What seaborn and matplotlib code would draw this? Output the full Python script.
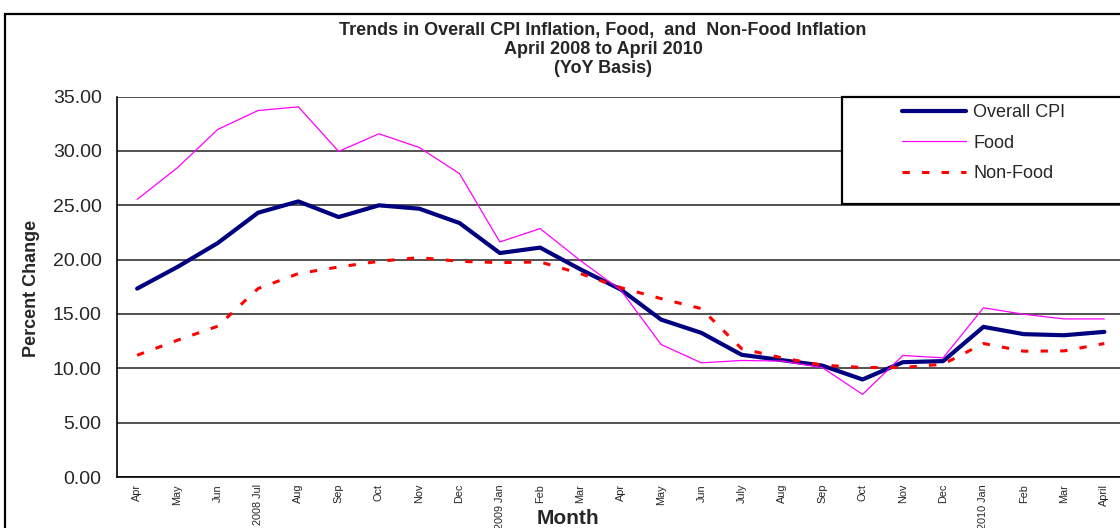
import matplotlib
matplotlib.use("Agg")
import matplotlib.pyplot as plt
import matplotlib.patches as mpatches
from matplotlib import font_manager
import seaborn as sns
import pandas as pd
import numpy as np

months = ["Apr", "May", "Jun", "2008 Jul", "Aug", "Sep", "Oct", "Nov", "Dec",
          "2009 Jan", "Feb", "Mar", "Apr", "May", "Jun", "July", "Aug", "Sep",
          "Oct", "Nov", "Dec", "2010 Jan", "Feb", "Mar", "April"]
overall_cpi = [17.33, 19.32, 21.52, 24.31, 25.35, 23.91, 24.99, 24.68, 23.36,
               20.60, 21.10, 19.10, 17.25, 14.48, 13.26, 11.24, 10.75, 10.25,
               8.97, 10.56, 10.66, 13.81, 13.14, 13.04, 13.35]
food = [25.54, 28.45, 31.97, 33.71, 34.05, 29.95, 31.57, 30.31, 27.90,
        21.62, 22.85, 19.90, 17.20, 12.19, 10.50, 10.72, 10.66, 10.07,
        7.60, 11.18, 10.96, 15.56, 14.97, 14.54, 14.54]
non_food = [11.20, 12.58, 13.87, 17.33, 18.71, 19.32, 19.84, 20.18, 19.84,
            19.72, 19.78, 18.71, 17.42, 16.41, 15.49, 11.80, 10.96, 10.29,
            10.07, 10.07, 10.38, 12.28, 11.57, 11.60, 12.28]
series_names = ["Overall CPI", "Food", "Non-Food"]
title_lines = ["Trends in Overall CPI Inflation, Food,  and  Non-Food Inflation",
               "April 2008 to April 2010", "(YoY Basis)"]


def has_font(name):
    try:
        font_manager.findfont(name, fallback_to_default=False)
        return True
    except Exception:
        return False

narrow = "Liberation Sans Narrow" if has_font("Liberation Sans Narrow") else "Liberation Sans"

sns.set_style("white")
plt.rcParams["font.family"] = ["Liberation Sans", "DejaVu Sans"]

W, H = 1120, 528
fig = plt.figure(figsize=(W / 100, H / 100), dpi=100)
fx = lambda px: px / W
fy = lambda py: 1 - py / H

x_left, x_right = 117, 117 + 25 * 40.3
y_top, y_bot = 96.5, 477
ax = fig.add_axes([fx(x_left), fy(y_bot), fx(x_right) - fx(x_left), (y_bot - y_top) / H])

n = len(months)
df = pd.DataFrame({
    "idx": np.tile(np.arange(n), 3),
    "value": overall_cpi + food + non_food,
    "series": np.repeat(series_names, n),
})

palette = {"Overall CPI": "#000080", "Food": "#FF00FF", "Non-Food": "#FF0000"}
sizes = {"Overall CPI": 3.0, "Food": 0.9, "Non-Food": 2.2}
dashes = {"Overall CPI": "", "Food": "", "Non-Food": (2.4, 4.0)}

sns.lineplot(data=df, x="idx", y="value", hue="series", style="series", size="series",
             palette=palette, sizes=sizes, dashes=dashes, hue_order=series_names,
             style_order=series_names, size_order=series_names, ax=ax, zorder=3)

handles, labels = ax.get_legend_handles_labels()
ax.get_legend().remove()

ax.set_xlim(-0.5, n - 0.5)
ax.set_ylim(0, 35)
ax.set_yticks(np.arange(0, 35.01, 5))
ax.set_yticklabels([f"{v:.2f}" for v in np.arange(0, 35.01, 5)], fontsize=14)
ax.yaxis.grid(True, color="#222222", linewidth=1.1)
ax.set_axisbelow(True)

ax.set_xticks(np.arange(n))
ax.set_xticklabels(months, rotation=90, fontsize=7.8, family=narrow, va="top")
ax.set_xticks(np.arange(-0.5, n, 1), minor=True)
ax.tick_params(axis="x", which="major", length=0, pad=5)
ax.tick_params(axis="x", which="minor", length=5, width=1, color="black", direction="out")
ax.tick_params(axis="y", which="major", length=6, width=1, color="black", direction="out", pad=5)

for s in ["top", "right"]:
    ax.spines[s].set_visible(False)
for s in ["left", "bottom"]:
    ax.spines[s].set_color("black")
    ax.spines[s].set_linewidth(1.2)

ax.set_xlabel("")
ax.set_ylabel("")
fig.text(fx(568), fy(519), "Month", ha="center", va="center", fontsize=15, fontweight="bold")
fig.text(fx(32), fy(288), "Percent Change", ha="center", va="center", rotation=90,
         fontsize=13, fontweight="bold", family=narrow)

for t, yy in zip(title_lines, [30, 49, 69]):
    fig.text(fx(603), fy(yy), t, ha="center", va="center", fontsize=13,
             fontweight="bold", family=narrow)

# outer chart border
fig.patches.append(mpatches.Rectangle((fx(5), -0.2), 1.2, fy(14) + 0.2, transform=fig.transFigure,
                                      fill=False, edgecolor="black", linewidth=1.6, zorder=10))

# legend frame
leg_frame = mpatches.Rectangle((fx(842), fy(204)), 0.5, (204 - 96.5) / H, transform=fig.transFigure,
                               facecolor="white", edgecolor="black", linewidth=1.6, zorder=5,
                               clip_on=False)
ax.add_patch(leg_frame)
leg = fig.legend(handles, labels, loc="upper left", bbox_to_anchor=(fx(902), fy(104)),
                 bbox_transform=fig.transFigure, frameon=False, fontsize=13,
                 handlelength=3.55, handletextpad=0.4, labelspacing=0.75, borderpad=0,
                 borderaxespad=0)
leg.set_zorder(20)

fig.savefig("out.png", dpi=100)
